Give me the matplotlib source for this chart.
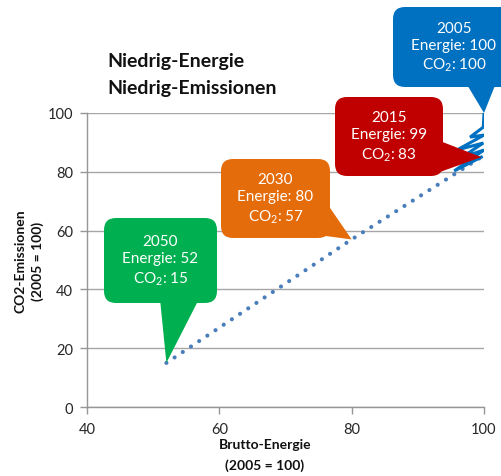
import matplotlib
matplotlib.use("Agg")
from matplotlib import pyplot as plt
from matplotlib.patches import FancyBboxPatch, Polygon
from matplotlib.transforms import IdentityTransform

plt.rcParams['font.family'] = ['Lato', 'DejaVu Sans']
plt.rcParams['mathtext.default'] = 'regular'

# historic path 2005 -> 2015 (energy index, co2 index)
hist_energie = [100, 99.9, 97.9, 100, 95.9, 99.9, 96.7, 100, 95.5, 99.6]
hist_co2 = [100, 95.2, 91.8, 92.5, 87.4, 89.8, 85, 87.4, 80.3, 85]

# target path 2015 -> 2050
ziel_energie = [99.6, 80, 52]
ziel_co2 = [85, 57, 15]

# callouts
jahre = ['2005', '2015', '2030', '2050']
energie = [100, 99, 80, 52]
co2 = [100, 83, 57, 15]
tip_x = [100, 99.6, 80, 52]
tip_y = [100, 85, 57, 15]
farben = ['#0070C0', '#C00000', '#E46C0A', '#00B050']

W, H = 502, 477
fig = plt.figure(figsize=(W / 100, H / 100), dpi=100)
ax = fig.add_axes([87 / W, 1 - 408 / H, 397 / W, 294 / H])

ax.plot(ziel_energie[::-1], ziel_co2[::-1], color='#4A7EBB', lw=3.0,
        linestyle=(0, (0.01, 2.35)), dash_capstyle='round', zorder=3)
ax.plot(hist_energie, hist_co2, color='#0070C0', lw=2.2, zorder=4,
        solid_joinstyle='miter')

ax.set_xlim(40, 100)
ax.set_ylim(0, 100)
ax.set_xticks([40, 60, 80, 100])
ax.set_yticks([0, 20, 40, 60, 80, 100])
ax.yaxis.grid(True, color='#A6A6A6', lw=1)
ax.set_axisbelow(True)
for s in ['top', 'right']:
    ax.spines[s].set_visible(False)
for s in ['left', 'bottom']:
    ax.spines[s].set_color('#969696')
    ax.spines[s].set_linewidth(1)
ax.tick_params(axis='both', length=5, width=1, color='#969696',
               labelsize=10.5, labelcolor='#262626')
ax.tick_params(axis='x', pad=6)
ax.tick_params(axis='y', pad=5)


def px(x, y):
    # pixel coords (top-left origin) -> display coords
    return (x, H - y)


# boxes: (x0, y0, x1, y1) in pixels, pointer base points in pixels
boxen = [(393, 8, 516, 88), (335, 98, 443, 177), (221, 160, 330, 239), (104, 219, 217, 304)]
basis = [[(466, 84), (496, 84)], [(440, 142), (440, 173)],
         [(326, 203), (318, 236)], [(160, 300), (199, 300)]]

for i in range(len(jahre)):
    x0, y0, x1, y1 = boxen[i]
    box = FancyBboxPatch(px(x0, y1), x1 - x0, y1 - y0,
                         boxstyle='round,pad=0,rounding_size=12',
                         transform=IdentityTransform(), fc=farben[i], ec='none',
                         zorder=10)
    fig.add_artist(box)
    tip = ax.transData.transform((tip_x[i], tip_y[i]))
    pts = [px(*basis[i][0]), px(*basis[i][1]), tuple(tip)]
    fig.add_artist(Polygon(pts, closed=True, transform=IdentityTransform(),
                           fc=farben[i], ec='none', zorder=10))
    cx, cy = (x0 + x1) / 2, (y0 + y1) / 2
    if i == 0:
        cx = 454
    label = f'{jahre[i]}\nEnergie: {energie[i]}\nCO$_2$: {co2[i]}'
    fig.text(cx / W, 1 - cy / H, label, ha='center', va='center',
             color='white', fontsize=11, linespacing=1.3, zorder=11)

fig.text(107 / W, 1 - 67 / H, 'Niedrig-Energie', fontsize=14,
         fontweight='bold', va='baseline', color='#111111')
fig.text(107 / W, 1 - 94 / H, 'Niedrig-Emissionen', fontsize=14,
         fontweight='bold', va='baseline', color='#111111')

fig.text(265 / W, 1 - 445 / H, 'Brutto-Energie', fontsize=10, fontweight='bold',
         ha='center', va='center', color='#111111')
fig.text(265 / W, 1 - 466 / H, '(2005 = 100)', fontsize=10, fontweight='bold',
         ha='center', va='center', color='#111111')
fig.text(21 / W, 1 - 261 / H, 'CO2-Emissionen', fontsize=10, fontweight='bold',
         ha='center', va='center', rotation=90, color='#111111')
fig.text(38 / W, 1 - 261 / H, '(2005 = 100)', fontsize=10, fontweight='bold',
         ha='center', va='center', rotation=90, color='#111111')

fig.savefig('out.png', dpi=100)
